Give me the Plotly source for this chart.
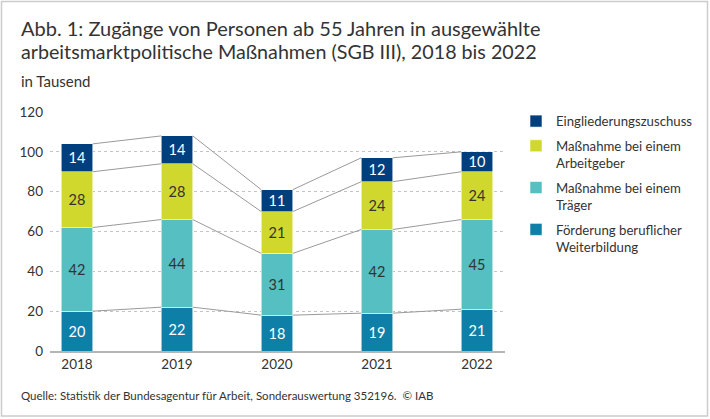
import plotly.graph_objects as go

years = ["2018", "2019", "2020", "2021", "2022"]
weiterbildung = [20, 22, 18, 19, 21]
traeger = [42, 44, 31, 42, 45]
arbeitgeber = [28, 28, 21, 24, 24]
eingliederung = [14, 14, 11, 12, 10]

series = [
    ("Förderung beruflicher<br>Weiterbildung", weiterbildung, "#0e7fa7", "white"),
    ("Maßnahme bei einem<br>Träger", traeger, "#55bfc1", "#333333"),
    ("Maßnahme bei einem<br>Arbeitgeber", arbeitgeber, "#d0d82d", "#333333"),
    ("Eingliederungszuschuss", eingliederung, "#003f7e", "white"),
]

FONT = "Lato"
W, H = 710, 419
L, R, T, B = 50, 205, 112, 68
BAR_W = 0.315
xs = list(range(len(years)))

fig = go.Figure()

for i, (name, vals, col, tcol) in enumerate(series):
    fig.add_trace(go.Bar(
        x=xs, y=vals, name=name, width=BAR_W,
        marker=dict(color=col, line=dict(color="rgba(255,255,255,0.7)", width=0.8)),
        texttemplate="%{y}", textposition="inside", insidetextanchor="middle",
        textangle=0, constraintext="none",
        textfont=dict(color=tcol, size=14.5, family=FONT),
        legendgroup=f"g{i}", legendrank=len(series) - i, hoverinfo="skip",
    ))

# connector lines between cumulative tops
cum = [0] * len(years)
for name, vals, col, tcol in series:
    cum = [c + v for c, v in zip(cum, vals)]
    lx, ly = [], []
    for j in range(len(years) - 1):
        lx += [xs[j] + BAR_W / 2, xs[j + 1] - BAR_W / 2, None]
        ly += [cum[j], cum[j + 1], None]
    fig.add_trace(go.Scatter(x=lx, y=ly, mode="lines", showlegend=False,
                             line=dict(color="#9a9a9a", width=1), hoverinfo="skip"))

def px_x(p):
    return (p - L) / (W - L - R)

def px_y(p):
    return (H - B - p) / (H - T - B)

fig.update_layout(
    width=W, height=H,
    margin=dict(l=L, r=R, t=T, b=B),
    barmode="stack",
    plot_bgcolor="white", paper_bgcolor="white",
    font=dict(family=FONT, color="#333333"),
    xaxis=dict(range=[-0.27, 4.28], tickvals=xs, ticktext=years, showgrid=False,
               showline=True, linecolor="#b5b5b5", linewidth=1.5, ticks="",
               tickfont=dict(size=13.5), zeroline=False, fixedrange=True),
    yaxis=dict(range=[0, 120], dtick=20, showgrid=True, gridcolor="#c4c4c4",
               griddash="dot", gridwidth=1, zeroline=False, ticks="",
               tickfont=dict(size=13.5), ticklabelstandoff=6, fixedrange=True),
    legend=dict(x=px_x(516), y=px_y(106), xanchor="left", yanchor="top",
                font=dict(size=13.2, family=FONT), valign="top",
                traceorder="grouped", tracegroupgap=4.5,
                bgcolor="rgba(0,0,0,0)"),
    showlegend=True,
)

def label(text, x, yc, size):
    fig.add_annotation(text=text, xref="paper", yref="paper", x=px_x(x), y=px_y(yc),
                       xanchor="left", yanchor="middle", align="left", showarrow=False,
                       font=dict(size=size, family=FONT, color="#333333"))

label("Abb. 1: Zugänge von Personen ab 55 Jahren in ausgewählte", 19, 28.5, 20)
label("arbeitsmarktpolitische Maßnahmen (SGB III), 2018 bis 2022", 19, 51.5, 19.7)
label("in Tausend", 19, 81, 15)
label("Quelle: Statistik der Bundesagentur für Arbeit, Sonderauswertung 352196.  © IAB", 19, 395, 11.5)

fig.add_shape(type="rect", xref="paper", yref="paper",
              x0=px_x(1.5), x1=px_x(707.5), y0=px_y(416), y1=px_y(1.5),
              line=dict(color="#cccccc", width=1.5), fillcolor="rgba(0,0,0,0)", layer="below")

fig.write_html("out.html", config={"displayModeBar": False},
               post_script="document.body.style.margin='0';document.body.style.overflow='hidden';")
